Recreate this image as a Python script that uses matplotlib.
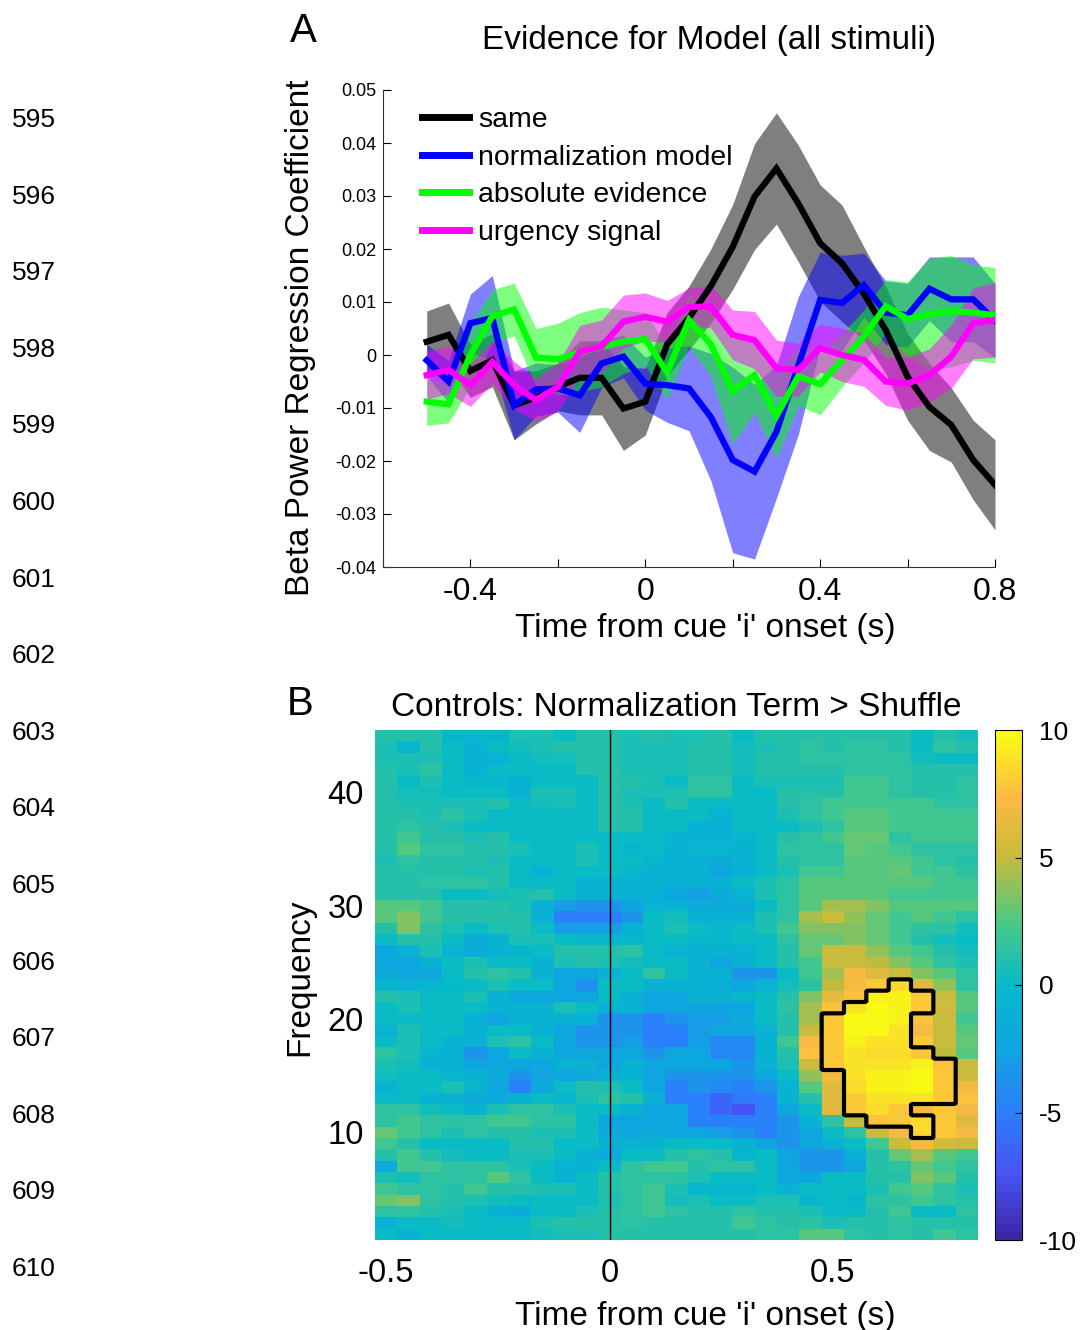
import numpy as np
import matplotlib
matplotlib.use('Agg')
import matplotlib.pyplot as plt
from matplotlib.colors import LinearSegmentedColormap

plt.rcParams['font.family'] = ['Liberation Sans', 'DejaVu Sans']
plt.rcParams['axes.unicode_minus'] = False

# ---------------- painel A: coeficientes de regressao ----------------
tempos = [-0.5, -0.45, -0.4, -0.35, -0.3, -0.25, -0.2, -0.15, -0.1, -0.05, 0.0,
          0.05, 0.1, 0.15, 0.2, 0.25, 0.3, 0.35, 0.4, 0.45, 0.5, 0.55, 0.6,
          0.65, 0.7, 0.75, 0.8]

same_media = [0.0025, 0.0038, -0.003, -0.001, -0.0095, -0.008, -0.006, -0.0043,
              -0.0043, -0.0101, -0.0088, 0.002, 0.007, 0.013, 0.0204, 0.0299,
              0.0352, 0.0286, 0.0211, 0.0173, 0.0116, 0.0047, -0.0041, -0.0098,
              -0.0132, -0.0198, -0.0245]
same_erro = [0.0058, 0.006, 0.005, 0.005, 0.0065, 0.005, 0.0045, 0.007, 0.007,
             0.0079, 0.0063, 0.006, 0.006, 0.007, 0.008, 0.010, 0.0105, 0.011,
             0.011, 0.011, 0.0088, 0.0082, 0.0082, 0.0082, 0.007, 0.0075, 0.0085]

norm_media = [-0.001, -0.005, 0.006, 0.007, -0.0095, -0.0065, -0.0063, -0.0076,
              -0.0016, -0.0003, -0.0054, -0.0057, -0.0063, -0.0117, -0.0198,
              -0.022, -0.0145, -0.002, 0.0104, 0.0098, 0.0132, 0.008, 0.0075,
              0.0125, 0.0105, 0.0105, 0.0065]
norm_erro = [0.003, 0.004, 0.0055, 0.008, 0.0065, 0.005, 0.0045, 0.007, 0.0045,
             0.004, 0.005, 0.007, 0.008, 0.012, 0.0175, 0.0165, 0.0125, 0.013,
             0.009, 0.009, 0.006, 0.006, 0.006, 0.006, 0.008, 0.008, 0.007]

abs_media = [-0.0088, -0.0093, 0.0, 0.0073, 0.0086, -0.0005, -0.0008, 0.0005,
             0.0015, 0.0025, 0.003, -0.0033, 0.0066, 0.002, -0.0068, -0.0038,
             -0.0115, -0.004, -0.0055, -0.001, 0.0035, 0.0092, 0.0068, 0.0077,
             0.0083, 0.008, 0.0075]
abs_erro = [0.0045, 0.0035, 0.006, 0.005, 0.005, 0.0055, 0.0068, 0.0075, 0.0075,
            0.006, 0.005, 0.005, 0.005, 0.006, 0.01, 0.007, 0.008, 0.0055,
            0.0058, 0.005, 0.005, 0.005, 0.007, 0.0105, 0.0105, 0.009, 0.009]

urg_media = [-0.0038, -0.0028, -0.0057, -0.0013, -0.0057, -0.0085, -0.006,
             0.0006, 0.0016, 0.0063, 0.0072, 0.0063, 0.0091, 0.0091, 0.0038,
             0.0028, -0.0025, -0.0028, 0.0013, 0.0, -0.0009, -0.005, -0.0054,
             -0.0038, -0.0003, 0.006, 0.0066]
urg_erro = [0.0045, 0.0045, 0.004, 0.004, 0.0045, 0.004, 0.0045, 0.005, 0.005,
            0.005, 0.0045, 0.004, 0.0035, 0.004, 0.0047, 0.0054, 0.0053, 0.005,
            0.0045, 0.005, 0.005, 0.0045, 0.005, 0.005, 0.006, 0.0067, 0.007]

nomes = ['same', 'normalization model', 'absolute evidence', 'urgency signal']
cores = ['black', 'blue', 'lime', 'magenta']

# ---------------- painel B: mapa tempo-frequencia ----------------
# linhas de cima (45 Hz) para baixo (1 Hz), colunas = tempos
frequencias = list(range(45, 0, -1))
mapa_tf = [
    [1.2, 1.2, 1.2, -0.5, -0.5, -0.5, 0.8, 0.8, 0, 1.2, 1.2, 0.8, 1.2, 0.8, 0.8, 1.2, 0, 1.2, 1.2, 1.2, 1.2, 1.2, 1.2, 1.2, 0, 1.2, 0.4],
    [0.8, -0.5, 1.2, 0, -1, 0, 0.4, 0.8, 1.2, 1.2, 1.2, 0.8, 0.8, 0.8, 1.2, 1.2, 0.4, 0.8, 1.2, 1.5, 1.2, 1.5, 1.5, 1.2, 0, 1.5, 1.2],
    [0.8, 0.8, 0.8, 0, -1, -1, 0, 0.4, 0.4, 1.2, 1.2, 0.8, 0.8, 0.8, 1.2, 1.2, 0.4, 1.2, 1.2, 1.5, 1.5, 1.5, 1.5, 1.5, 0.4, 0, 0],
    [1.2, 0.8, 1.5, 0, -1, 0, 0, 0, 0, 1.2, 1.2, 0.8, 0.8, 0.8, 1.2, 1.2, 0.4, 1.2, 1.2, 1.2, 1.2, 1.5, 1.5, 1.5, 1.2, 1.2, 1.2],
    [1.2, 0, 0.8, 0, -0.5, -0.5, -1, 0, 0, 0, 1.2, 1.2, 0.8, 0, 1.5, 1.5, 0, 0.8, 0.8, 0.8, 0.8, 2, 2, 1.5, 1.2, 1.2, 1.5],
    [1.2, 0.4, 0.4, 0, 0, 0, -1, 0.8, 0.8, 0, 1.2, 0.8, 0.8, 0.8, 1.5, 1.5, 0, 0, 1.2, 1.2, 1.2, 2, 2, 1.5, 1.2, 1.2, 1.5],
    [1.2, 0.8, 0.8, 0.8, 0.8, 1.2, 0, 0.4, 0.8, 0, 1.2, 0.8, 0, 1.2, 0, 0, 0, 0, 1.2, 1.5, 2, 2, 2, 2, 2, 1.5, 1.5],
    [1.2, 1.2, 0.8, 1.5, 0.8, 0, 0, 0, 0, 0, 1.2, 1.2, 0, 0, 0, -1, 0, 0, 0.8, 1.5, 2, 2.5, 2.5, 2, 2, 2, 2],
    [1.2, 1.5, 1.2, 0.8, 0, 0, 0, 0, 0, 0, 1.2, 1.2, 0, 0, -1, -1, 0, 0, 0, 0.8, 1.5, 2.5, 2.5, 2, 2, 2, 2],
    [1.2, 2, 1.2, 1.2, 0.8, 1.2, 0, 0, 0, 0, 0, 0, 0, -1, -1, -1, -0.5, 0, 1.2, 1.5, 2, 3, 3, 1.5, 2, 2, 2],
    [1.2, 2.5, 1.5, 1.5, 1.2, 1.2, 0.8, 0, 0, 0.8, 0, -0.5, 0, -1, -0.5, -0.5, -1, 0, 1.5, 1.5, 1.5, 3, 2.5, 2, 1.5, 1.5, 1.5],
    [0.8, 1.5, 1.2, 1.2, 1.2, 0.8, 0, 0, 0, 0.8, 0, 0, -0.5, -1, -1, -1.7, -1, 0, 1.2, 1.5, 1.5, 2.5, 2.5, 2.5, 2, 1.5, 1.2],
    [1.2, 1.2, 1.2, 1.2, 0.8, 1.2, 0, -1, 0, 0, 0, -0.5, -1, -1, -1, -2.5, -1, 0, 0.8, 2, 2, 2.5, 2.5, 3, 2, 2, 1.5],
    [1.2, 1.2, 1.5, 1.5, 1.5, 1.2, 0, 0, 0, -1, -1, -1, -1, -1, -1, -1, 0, 0.8, 1.5, 2.5, 2.5, 2.5, 2.5, 2.5, 2.5, 2, 2],
    [1.2, 1.2, 1.2, 0, 0, 0.4, 0.8, 1.2, 0, -1, -1, -1, -1, -2.5, -3, -1.7, -1, 0.8, 1.5, 2.5, 2.5, 2.5, 2.5, 2, 2, 2, 2],
    [2.5, 2.5, 2, 1.2, 1.2, 1.2, 0.8, -1, -3, -3.5, -3.5, -2.5, -1, -1, -1.7, -1.7, -1.7, 0, 1.5, 2.5, 4.2, 4.2, 3.5, 2.5, 2.5, 2.5, 2.5],
    [2.5, 3.5, 2, 1.2, 1.2, 1.2, 1.2, -1, -4.8, -4.8, -4.8, -3.5, 0, 0.4, -1, -1, -1, 0.8, 1.5, 4.2, 5, 3.8, 3, 2, 2.5, 2, 1.5],
    [1.2, 3.5, 1.5, 0.8, 0, 0.8, 1.2, 0, -3, -3, -3, -1, 0, 0.8, 0, -0.5, 0, 0.8, 2, 3.5, 3.5, 3.5, 3, 2, 1.5, 1.5, 0.4],
    [0, 1.2, 1.2, 0, -1.7, -1, 0.8, 0.8, 0, -0.5, -0.5, -0.5, 0, 0, -0.5, -0.5, 0, 0, 1.5, 3, 3, 3.5, 3, 2, 1.2, 0.4, 0],
    [-2.5, -1, 0.8, -1, -1.7, -1, -0.5, 0, 1.2, 1.2, 1.2, 1.5, 0, -1, -1, -1, -1, 0, 1.2, 3, 5, 5, 3.8, 2.5, 2, 1.2, 0.4],
    [-2.5, -2.5, -1, 0, 0.8, 0, 0, -1, 0.8, 1.2, 0.8, 0.4, 0, 0, -1, -2.5, -1, 0, 1.2, 2, 5, 5, 4.7, 3.5, 2.5, 1.5, 0.8],
    [-1.7, -2.5, -2.5, 0, 1.2, 1.5, 1.2, -1, -2.5, -2.5, -1, 0, 1.5, 0, -1, -1, -3.5, -3.5, 0, 2, 4.2, 7, 6, 5, 3.5, 2.5, 1.5],
    [-0.5, -1, -0.5, -0.2, 0, 0.8, 0, 0, -2.5, -3.9, 0, 0, -1, -1, -1, -1.3, -2.5, -1, 0.4, 1.5, 4.7, 7, 8, 8.5, 6, 3.8, 1.5],
    [1.2, 0.8, 0, 0, 0.8, -1, -2.5, -2.5, -2.5, -2.5, 0, -1, -2.5, -2.5, -1, -1, -0.5, 0, 1.2, 3.5, 6.5, 7.5, 9.5, 9.5, 8, 5, 2.5],
    [0, 0.8, 0, 0, 0, -1, -1, -1, 0.8, 0, -1, -1, -2.5, -2.5, -2.5, -2.5, -2.5, 0, 1.5, 4.2, 7.5, 9, 10, 9.5, 8, 5.5, 2.5],
    [0, 0, 0, 0, -1, -2.5, -1, -1, -1, -1, -3.5, -3.5, -4.8, -3.5, -3, -3, -1.7, 0, 1.2, 4.2, 8, 10, 10, 9.5, 7.5, 5, 2],
    [-1, 0.8, 0, 0, -1, 0, 0, -1, -2.5, -3.5, -3.5, -3.5, -4.8, -4.8, -3, -2.5, -2.5, -1, 1.2, 5, 8, 10, 10, 9, 7, 5, 2.5],
    [0, 0.8, 0, -1, -1, 0.8, 1.5, 0, -2.5, -3.5, -3.5, -3, -4.8, -4.8, -3, -4.2, -4.2, -1, 2, 7, 8, 9.5, 9, 9, 8, 5, 3],
    [1.5, 0.8, -0.5, -1, -3.5, -2.5, 0, -1, -2.5, -2.5, -2.5, -2.5, -3.5, -2.5, -2.5, -4.2, -4.2, -1, 1.2, 7.5, 8, 9, 8.5, 8.5, 8, 4.7, 2.5],
    [0.8, 0.4, -1, -1, -2.5, -2.5, -2.5, -2.5, -1, -1, -2.5, -1, -2.5, -2.5, -2.5, -2.5, -3.5, -1, 0.8, 5, 8, 9, 9, 9, 9.5, 7.5, 5],
    [0.4, 0, 0, -0.5, -1, -1.7, -3.5, -2.5, -2.5, -1.7, -1, -1, -2.5, -3.5, -3.5, -3.5, -3.5, -2.5, 0, 3.8, 7, 9, 9.5, 9.5, 10, 8, 5],
    [-1, 0, 0, 0.8, -0.5, -2.5, -4.8, -2.5, 0, 1.2, 0.8, 0, -2.5, -4.8, -3.5, -4.2, -4.8, -3.5, -1, 2.5, 6, 8.5, 9.5, 9.5, 10, 8, 7],
    [0, 0, -1, -1, -1.7, -1.7, -1, 0, -0.5, 0.8, 1.5, 1.2, -1, -4.8, -4.8, -6.5, -5.3, -4.8, -1, 1.2, 6, 8, 9, 9, 9, 8, 7.5],
    [1.5, 1.5, 0.4, 0, -1, 0.8, 1.5, 1.5, 0.8, 0, 0, -1, -2.5, -2.5, -4.8, -6.5, -7.5, -4.8, -2.5, 0, 6, 8, 8.5, 8, 7, 8, 7],
    [1.5, 2, 1.5, 1.5, 1.5, 2, 2, 1.5, 1.5, 0, -2.5, -2.5, -2.5, -2.5, -4.8, -4.8, -4.8, -4.8, -3.5, -1, 1.5, 5, 7.5, 8, 8.5, 8, 6],
    [3, 2, 1.5, 0.8, 1.5, 1.2, 1.2, 0.8, 0.8, 0, -1.7, -2.5, -1.7, -2.5, -2.5, -3, -3.5, -4.8, -3.5, -2.5, 0, 1.5, 5, 7, 8.5, 8, 7],
    [2, 1.2, 0, 0, 0, 0, 1.2, 1.2, 0, 0, -1, -1, -1, 0, 0, 0, -1, -2.5, -3.5, -2.5, -1, 0, 2, 5, 7, 5.5, 5],
    [1.2, 2, 1.2, 0.4, 0, 0, 0.8, 0.8, 0, -1, -1.7, 0, 0, 1.2, 1.5, 1.2, -0.5, 0, -2.5, -3.5, -3.5, -1, 1.2, 3, 4.2, 2.5, 2],
    [-1.7, 2, 2, 1.5, 1.5, 1.5, 0.8, 0, -1, -1, 0, 1.5, 2, 2, 1.2, 1.5, 1.5, 0, -2.5, -3.5, -3.5, -2.5, 1.2, 1.5, 3, 2, 1.5],
    [0.8, 0.4, 1.5, 1.5, 1.5, 2.5, 1.5, 0, -1, 0, 1.2, 1.5, 1.5, 1.5, 0.8, 0, 0, 0, -2.5, -2.5, 0, 0, 1.2, 1.2, 3.5, 2.5, 1.2],
    [2, 1.5, 1.5, 1.2, 2, 1.2, 1.2, 0.8, 0.8, 0, 1.2, 1.5, 2, 0.8, -0.5, -0.5, -0.5, 0, -1, 0, 0, 0, 0.8, 2, 2.5, 1.5, 0.8],
    [3, 3.5, 1.5, 1.2, 0.8, 0.4, 0, 0, 0, 0, 0.8, 1.5, 2, 0.4, 0.8, 0, 0, 0.8, 0.8, -0.5, 0, -0.5, 1.5, 1.5, 2, 1.5, 1.2],
    [1.5, 1.5, 1.2, 0.8, 0, -1, -1.7, 0, 0, 0.8, 1.2, 1.5, 2, 1.5, 1.2, 1.2, 1.5, 1.2, 1.2, 0.8, 0, 0, 1.2, 2, 0, 0, 1.5],
    [-1, 0, 0, 0.4, 0, 0, 0, 0.8, 1.2, 1.2, 1.2, 1.5, 1.2, 1.2, 1.2, 1.2, 2, 1.5, 1.2, 1.5, 0.8, 1.2, 1.2, 1.5, 1.2, 1.2, 1.2],
    [0, -1, 0, 0, 0, 0, 0, 0.4, 0.8, 0.8, 1.2, 1.2, 1.2, 1.2, 1.2, 1.2, 1.2, 1.5, 1.5, 2.5, 2.5, 1.5, 1.2, 1.5, 1.2, 2, 1.5],
]

# cluster significativo: para cada frequencia, primeiro e ultimo tempo
cluster_freq = [23, 22, 21, 20, 19, 18, 17, 16, 15, 14, 13, 12, 11, 10]
cluster_ini = [0.65, 0.6, 0.55, 0.5, 0.5, 0.5, 0.5, 0.5, 0.55, 0.55, 0.55, 0.55, 0.6, 0.7]
cluster_fim = [0.65, 0.7, 0.7, 0.65, 0.65, 0.65, 0.7, 0.75, 0.75, 0.75, 0.75, 0.65, 0.7, 0.7]

numeros_linha = list(range(595, 611))

# aproximacao do mapa de cores parula (64 niveis, como no MATLAB)
parula = LinearSegmentedColormap.from_list('parula', [
    (0.000, (0.243, 0.150, 0.660)),
    (0.125, (0.275, 0.330, 0.960)),
    (0.250, (0.170, 0.500, 0.985)),
    (0.375, (0.060, 0.650, 0.880)),
    (0.500, (0.020, 0.730, 0.790)),
    (0.625, (0.300, 0.790, 0.520)),
    (0.750, (0.770, 0.735, 0.230)),
    (0.875, (0.990, 0.730, 0.260)),
    (1.000, (0.977, 0.984, 0.081)),
], N=64)

W, H = 1080, 1330
fig = plt.figure(figsize=(W / 100, H / 100), dpi=100)


def caixa(x0, y0, x1, y1):
    return [x0 / W, 1 - y1 / H, (x1 - x0) / W, (y1 - y0) / H]


def texto(x, y, s, **kw):
    fig.text(x / W, 1 - y / H, s, ha='center', va='center', **kw)


# ---------- painel A ----------
ax = fig.add_axes(caixa(383, 90, 995, 567))
t = np.array(tempos)
series = [(same_media, same_erro), (norm_media, norm_erro),
          (abs_media, abs_erro), (urg_media, urg_erro)]
linhas = []
for (m, e), cor, nome in zip(series, cores, nomes):
    m = np.array(m)
    e = np.array(e)
    ax.fill_between(t, m - e, m + e, color=cor, alpha=0.5, linewidth=0)
    ln, = ax.plot(t, m, color=cor, lw=4.5, label=nome, solid_joinstyle='miter')
    linhas.append(ln)

ax.set_xlim(-0.6, 0.8)
ax.set_ylim(-0.04, 0.05)
ax.set_xticks([-0.6, -0.4, -0.2, 0, 0.2, 0.4, 0.6, 0.8])
ax.set_xticklabels(['', '-0.4', '', '0', '', '0.4', '', '0.8'])
ax.set_yticks(np.arange(-0.04, 0.0501, 0.01))
ax.set_yticklabels(['-0.04', '-0.03', '-0.02', '-0.01', '0', '0.01', '0.02', '0.03', '0.04', '0.05'])
ax.tick_params(axis='x', direction='in', length=6, labelsize=23, pad=7)
ax.tick_params(axis='y', direction='in', length=6, labelsize=13, pad=5)
for s in ['top', 'right']:
    ax.spines[s].set_visible(False)
for s in ['left', 'bottom']:
    ax.spines[s].set_color('#333333')
leg = ax.legend(handles=linhas, loc='upper left', bbox_to_anchor=(0.063, 0.964),
                frameon=False, fontsize=20.4, handlelength=1.66, handletextpad=0.33,
                labelspacing=0.41, borderpad=0, borderaxespad=0)
for h in leg.get_lines():
    h.set_linewidth(5)

texto(303, 31, 'A', fontsize=29)
texto(709, 40, 'Evidence for Model (all stimuli)', fontsize=24)
texto(705, 628, "Time from cue 'i' onset (s)", fontsize=24)
texto(300, 338, 'Beta Power Regression Coefficient', fontsize=24, rotation=90)

# ---------- painel B ----------
bx = fig.add_axes(caixa(375, 730, 978, 1240))
dados = np.array(mapa_tf)
passo = tempos[1] - tempos[0]
ext = [tempos[0] - passo / 2, tempos[-1] + passo / 2,
       frequencias[-1] - 0.5, frequencias[0] + 0.5]
im = bx.imshow(dados, cmap=parula, vmin=-10, vmax=10, aspect='auto',
               interpolation='nearest', origin='upper', extent=ext)
bx.axvline(0, color='black', lw=1)

# contorno do cluster
mascara = np.zeros_like(dados)
for f, a, b in zip(cluster_freq, cluster_ini, cluster_fim):
    linha = frequencias.index(f)
    c0 = int(round((a - tempos[0]) / passo))
    c1 = int(round((b - tempos[0]) / passo))
    mascara[linha, c0:c1 + 1] = 1
k = 8
grande = np.kron(mascara[::-1], np.ones((k, k)))
xs = ext[0] + (np.arange(grande.shape[1]) + 0.5) * passo / k
ys = ext[2] + (np.arange(grande.shape[0]) + 0.5) / k
bx.contour(xs, ys, grande, levels=[0.5], colors='black', linewidths=3)

bx.set_xlim(ext[0], ext[1])
bx.set_ylim(ext[2], ext[3])
bx.set_xticks([-0.5, 0, 0.5])
bx.set_xticklabels(['-0.5', '0', '0.5'])
bx.set_yticks([10, 20, 30, 40])
bx.tick_params(axis='x', direction='in', length=0, labelsize=23.5, pad=13)
bx.tick_params(axis='y', direction='in', length=0, labelsize=23.5, pad=8)
for s in bx.spines.values():
    s.set_visible(False)

texto(300, 704, 'B', fontsize=29)
texto(676, 707, 'Controls: Normalization Term > Shuffle', fontsize=24)
texto(705, 1317, "Time from cue 'i' onset (s)", fontsize=24)
texto(300, 977, 'Frequency', fontsize=24, rotation=90)

cax = fig.add_axes(caixa(995, 730, 1022, 1240))
cb = fig.colorbar(im, cax=cax, ticks=[-10, -5, 0, 5, 10])
cb.ax.set_yticklabels(['-10', '-5', '0', '5', '10'])
cb.ax.tick_params(direction='in', length=5, labelsize=19, pad=12)
cb.outline.set_linewidth(0.8)

for i, n in enumerate(numeros_linha):
    fig.text(12 / W, 1 - (120 + 76.6 * i) / H, str(n), fontsize=19,
             ha='left', va='center')

fig.savefig('out.png', dpi=100)
